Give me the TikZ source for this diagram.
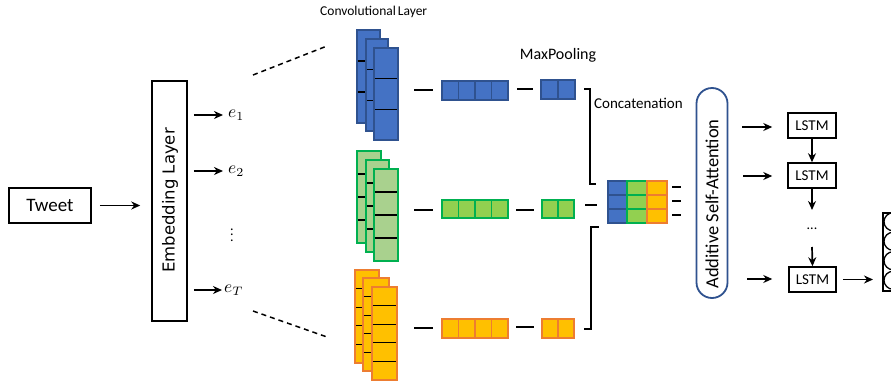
\documentclass[tikz,border=0pt]{standalone}
\usepackage{fontspec}
\setmainfont{Carlito}
\newfontfamily\dejavu{DejaVu Sans}
\usetikzlibrary{arrows.meta}
\definecolor{bluefill}{HTML}{4472C4}
\definecolor{bluedraw}{HTML}{2F528F}
\definecolor{greenfill}{HTML}{A9D18E}
\definecolor{greendraw}{HTML}{00B050}
\definecolor{greenpool}{HTML}{92D050}
\definecolor{orangefill}{HTML}{FFC000}
\definecolor{orangedraw}{HTML}{ED7D31}
% vertical stack of cells: x1 y1 x2 y2 n dividers fill draw
\newcommand\vcells[8]{%
  \filldraw[fill=#7,draw=#8,line width=1.5pt] (#1,#2) rectangle (#3,#4);
  \foreach \k in {#6}{\draw[line width=1.3pt,black] (#1+0.8,{#2+\k*(#4-#2)/#5}) -- (#3-0.8,{#2+\k*(#4-#2)/#5});}%
}
% horizontal row of cells
\newcommand\hcells[8]{%
  \filldraw[fill=#7,draw=#8,line width=1.5pt] (#1,#2) rectangle (#3,#4);
  \foreach \k in {#6}{\draw[line width=1.2pt,#8] ({#1+\k*(#3-#1)/#5},#2) -- ({#1+\k*(#3-#1)/#5},#4);}%
}
% concat column with coloured dividers
\newcommand\ccells[7]{%
  \filldraw[fill=#6,draw=#7,line width=1.5pt] (#1,#2) rectangle (#3,#4);
  \foreach \k in {1,2}{\draw[line width=1.2pt,#7] (#1,{#2+\k*(#4-#2)/#5}) -- (#3,{#2+\k*(#4-#2)/#5});}%
}
\tikzset{
  box/.style={draw=black, line width=1.5pt, inner sep=0pt},
  arr/.style={-{Stealth[length=9pt,width=8pt]}, line width=1.7pt},
  conn/.style={line width=1.5pt},
  dashline/.style={line width=1.5pt, dash pattern=on 5pt off 4pt},
  elbl/.style={anchor=west, inner sep=0.5pt, scale=1.75},
}
\begin{document}
\begin{tikzpicture}[x=1pt,y=-1pt]
\clip (0,0) rectangle (891,386);
\fill[white] (0,0) rectangle (891,386);

% Tweet and embedding
\node[box, minimum width=82, minimum height=35, font=\fontsize{19}{20}\selectfont] (tweet) at (50,205.5) {Tweet};
\node[box, minimum width=35, minimum height=240] (emb) at (169.5,201) {};
\node[rotate=90, inner sep=0pt, font=\dejavu\fontsize{16.5}{17}\selectfont] (embtxt) at (170,200.5) {Embedding Layer};
\draw[arr, shorten <=8pt, shorten >=11pt] (tweet.east) -- (tweet.east -| emb.west);

% embeddings
\node[elbl] (e1) at (227,115) {$e_1$};
\node[elbl] (e2) at (227,171) {$e_2$};
\node[elbl] (eT) at (223,290) {$e_T$};
\node[inner sep=0pt, scale=1.4] (edots) at (232,231) {$\vdots$};
\draw[arr, shorten <=6pt, shorten >=4pt] (emb.east |- e1) -- (e1.west);
\draw[arr, shorten <=6pt, shorten >=4pt] (emb.east |- e2) -- (e2.west);
\draw[arr, shorten <=6pt, shorten >=1pt] (emb.east |- eT) -- (eT.west);

% dashed projection lines
\coordinate (d1a) at (253,75); \coordinate (d1b) at (327,46);
\coordinate (d2a) at (253,311); \coordinate (d2b) at (327,337);
\draw[dashline] (d1a) -- (d1b);
\draw[dashline] (d2a) -- (d2b);

% labels
\node[anchor=west, inner sep=0pt, font=\fontsize{13.5}{14}\selectfont] (convlbl) at (320,12) {Convolutional\hspace{2pt}Layer};
\node[inner sep=0pt, font=\fontsize{16}{17}\selectfont] (maxlbl) at (558,55) {MaxPooling};
\node[anchor=west, inner sep=0pt, font=\fontsize{15}{16}\selectfont] (catlbl) at (594,103) {Concatenation};

% conv stacks blue
\vcells{357}{30}{380}{123}{3}{1,2}{bluefill}{bluedraw}
\vcells{366}{39}{388}{131}{3}{1,2}{bluefill}{bluedraw}
\vcells{374}{48}{398}{140}{3}{1,2}{bluefill}{bluedraw}
% green
\vcells{357}{151}{381}{243}{4}{1,2,3}{greenfill}{greendraw}
\vcells{366}{160}{389}{252}{4}{1,2,3}{greenfill}{greendraw}
\vcells{374}{169}{398}{261}{4}{1,2,3}{greenfill}{greendraw}
% orange
\vcells{355}{270}{379}{363}{5}{1,2,3,4}{orangefill}{orangedraw}
\vcells{363}{278}{389}{371}{5}{1,2,3,4}{orangefill}{orangedraw}
\vcells{372}{287}{397}{380}{5}{1,2,3,4}{orangefill}{orangedraw}

% short connecting dashes
\coordinate (b1) at (414,90); \coordinate (b2) at (433,90);
\coordinate (g1) at (414,210); \coordinate (g2) at (433,210);
\coordinate (o1) at (414,328); \coordinate (o2) at (433,328);
\draw[conn] (b1) -- (b2); \draw[conn] (g1) -- (g2); \draw[conn] (o1) -- (o2);
\coordinate (b3) at (517,89); \coordinate (b4) at (533,89);
\coordinate (g3) at (516,210); \coordinate (g4) at (534,210);
\coordinate (o3) at (516,327); \coordinate (o4) at (534,327);
\draw[conn] (b3) -- (b4); \draw[conn] (g3) -- (g4); \draw[conn] (o3) -- (o4);

% pooled rows
\hcells{442}{81}{508}{100}{4}{1,2,3}{bluefill}{bluedraw}
\hcells{541}{80}{575}{99}{2}{1}{bluefill}{bluedraw}
\hcells{442}{200}{508}{218}{4}{1,2,3}{greenpool}{greendraw}
\hcells{542}{200}{574}{218}{2}{1}{greenpool}{greendraw}
\hcells{442}{319}{508}{338}{4}{1,2,3}{orangefill}{orangedraw}
\hcells{542}{319}{574}{338}{2}{1}{orangefill}{orangedraw}

% brackets to concatenation
\coordinate (k1) at (584,89); \coordinate (k2) at (596,184);
\draw[conn] (k1) -- (590,89) -- (590,184) -- (k2);
\coordinate (k3) at (585,205); \coordinate (k4) at (597,205);
\draw[conn] (k3) -- (k4);
\coordinate (k5) at (584,329); \coordinate (k6) at (599,227);
\draw[conn] (k5) -- (591,329) -- (591,227) -- (k6);

% concatenated block
\ccells{608}{181}{627}{223}{3}{bluefill}{bluedraw}
\ccells{627}{181}{647}{223}{3}{greenpool}{greendraw}
\ccells{647}{181}{667}{223}{3}{orangefill}{orangedraw}
\foreach \yy in {187,201,215}{\draw[conn] (672,\yy) -- (681,\yy);}

% attention
\node[draw=bluedraw, line width=1.8pt, rounded corners=15.5, minimum width=31, minimum height=210, inner sep=0pt] (att) at (712,193) {};
\node[rotate=90, inner sep=0pt, font=\fontsize{18.5}{19}\selectfont] (atttxt) at (712,204) {Additive Self-Attention};

% LSTMs
\node[box, minimum width=48, minimum height=25, font=\fontsize{15}{16}\selectfont] (l1) at (812,125.5) {LSTM};
\node[box, minimum width=48, minimum height=25, font=\fontsize{15}{16}\selectfont] (l2) at (812,175.5) {LSTM};
\node[box, minimum width=47, minimum height=25, font=\fontsize{15}{16}\selectfont] (l3) at (812.5,279.5) {LSTM};
\coordinate (a1) at (742,127); \coordinate (a2) at (743,176); \coordinate (a3) at (747,279);
\draw[arr, shorten >=15pt] (a1) -- (a1 -| l1.west);
\draw[arr, shorten >=15pt] (a2) -- (a2 -| l2.west);
\draw[arr, shorten >=16pt] (a3) -- (a3 -| l3.west);
\draw[arr] (l1.south) -- (l2.north);
\coordinate (v1) at (812,210); \coordinate (v2) at (812,247);
\draw[arr] (l2.south) -- (v1);
\node[inner sep=0pt, font=\fontsize{14}{14}\selectfont] (ldots) at (812,229) {...};
\draw[arr] (v2) -- (l3.north);

% output
\node[box, minimum width=23, minimum height=78, anchor=north west] (out) at (882,212) {};
\foreach \cy in {221.75,241.25,260.75,280.25}{\draw[line width=1.3pt] (893,\cy) circle (9);}
\draw[arr, shorten <=6pt, shorten >=9pt] (l3.east) -- (l3.east -| out.west);
\end{tikzpicture}
\end{document}
